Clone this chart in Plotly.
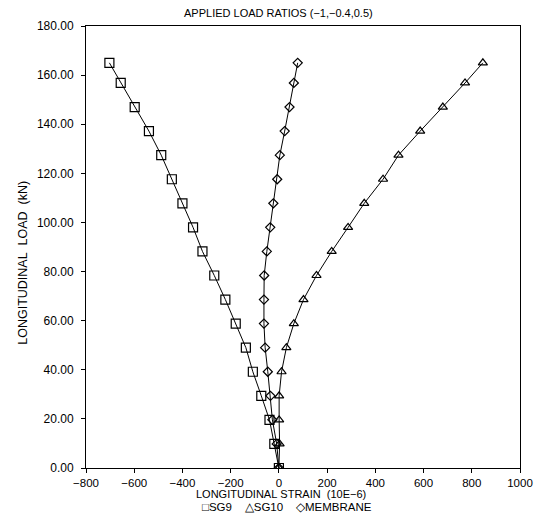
import plotly.graph_objects as go

# Applied longitudinal load (kN)
load_kn = [0, 9.8, 19.6, 29.4, 39.2, 49.0, 58.8, 68.6, 78.4, 88.2,
           98.0, 107.8, 117.6, 127.4, 137.2, 147.0, 156.8, 165.0]

# Longitudinal strain (10E-6) per gauge
sg9 = [0, -19, -39, -73, -108, -137, -179, -222, -268, -317,
       -356, -400, -444, -488, -539, -598, -656, -703]
sg10 = [0, 3, 1, 1, 11, 31, 62, 102, 156, 219,
        287, 354, 432, 496, 586, 680, 772, 846]
membrane = [0, -9, -27, -35, -46, -57, -62, -62, -61, -50,
            -36, -23, -7, 4, 24, 44, 62, 78]

x_ticks = [-800, -600, -400, -200, 0, 200, 400, 600, 800, 1000]
y_ticks = [0, 20, 40, 60, 80, 100, 120, 140, 160, 180]

FONT = "Liberation Sans, Arial, sans-serif"
NB = "\u00a0"

fig = go.Figure()
series = [
    ("SG9", sg9, "square-open", 9),
    ("SG10", sg10, "triangle-up-open", 8),
    ("MEMBRANE", membrane, "diamond-open", 7),
]
for name, xs, sym, size in series:
    fig.add_trace(go.Scatter(
        x=xs, y=load_kn, mode="lines+markers", name=name,
        line=dict(color="black", width=1),
        marker=dict(symbol=sym, size=size, color="black",
                    line=dict(color="black", width=1.2)),
        showlegend=False,
    ))

L, R, T, B = 86, 20, 26, 51
W, H = 545, 519
pw, ph = W - L - R, H - T - B


def px(xp):
    return (xp - L) / pw


def py(yp):
    return (H - B - yp) / ph


fig.update_layout(
    width=W, height=H,
    margin=dict(l=L, r=R, t=T, b=B),
    paper_bgcolor="white", plot_bgcolor="white",
    font=dict(family=FONT, size=11, color="black"),
    xaxis=dict(
        range=[-800, 1000], tickvals=x_ticks, ticks="outside", ticklen=4,
        tickwidth=1, tickcolor="black", showgrid=False, zeroline=False,
        showline=True, linecolor="black", linewidth=1, mirror=True,
        tickfont=dict(size=11.5),
    ),
    yaxis=dict(
        range=[0, 180], tickvals=y_ticks, tickformat=".2f", ticks="outside",
        ticklen=4, tickwidth=1, tickcolor="black", showgrid=False,
        zeroline=False, showline=True, linecolor="black", linewidth=1,
        mirror=True, tickfont=dict(size=12), ticklabelstandoff=5,
    ),
    annotations=[
        dict(text="APPLIED LOAD RATIOS (\u22121,\u22120.4,0.5)", xref="paper", yref="paper",
             x=px(281), y=py(13), xanchor="center", yanchor="middle", showarrow=False,
             font=dict(size=11)),
        dict(text=f"LONGITUDINAL{NB}STRAIN{NB}{NB}(10E\u22126)", xref="paper", yref="paper",
             x=px(283), y=py(494), xanchor="center", yanchor="middle", showarrow=False,
             font=dict(size=11)),
        dict(text=f"\u25a1SG9{NB}{NB}{NB}{NB}\u25b3SG10{NB}{NB}{NB}{NB}\u25c7MEMBRANE",
             xref="paper", yref="paper",
             x=px(289), y=py(507), xanchor="center", yanchor="middle", showarrow=False,
             font=dict(size=11.5)),
        dict(text=f"LONGITUDINAL{NB}{NB}LOAD{NB}{NB}(kN)", xref="paper", yref="paper",
             x=px(22), y=py(263), xanchor="center", yanchor="middle", showarrow=False,
             textangle=-90, font=dict(size=12.5)),
    ],
)

fig.write_html("out.html")
